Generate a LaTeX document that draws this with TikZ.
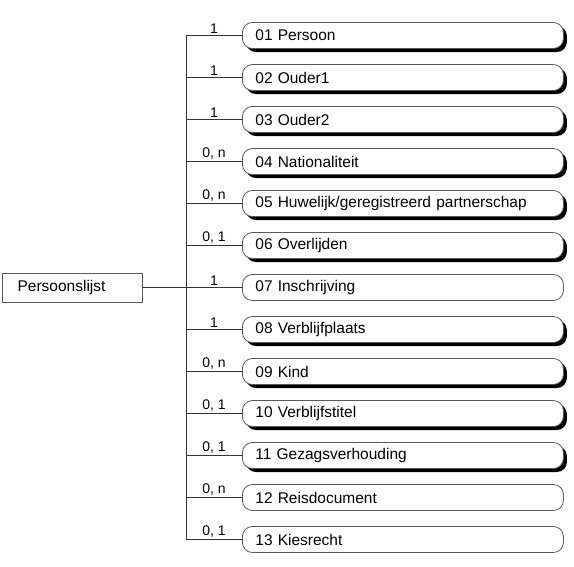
\documentclass[tikz,border=0pt]{standalone}
\usepackage{fontspec}
\setmainfont{Liberation Sans}
\usetikzlibrary{positioning,shadows,calc}
\tikzstyle{catbox}=[rectangle, rounded corners=10pt, draw=black!65, fill=white, line width=0.8pt,
minimum height=26pt, inner xsep=13pt, text width=295pt, align=left, font=\fontsize{15.5}{18}\selectfont]
\tikzstyle{shbox}=[catbox, drop shadow={shadow xshift=3.5pt, shadow yshift=-3.5pt, fill=black, opacity=1}]
\tikzstyle{rootbox}=[rectangle, draw=black!65, line width=0.8pt, minimum height=29pt, inner xsep=15pt,
text width=110pt, align=left, font=\fontsize{15.5}{18}\selectfont]
\tikzstyle{line}=[-, draw=black!80, line width=0.9pt]
\tikzstyle{card}=[above, inner sep=2pt, font=\fontsize{14}{16}\selectfont]

\begin{document}
\begin{tikzpicture}[node distance=15.2pt]
    \useasboundingbox (0pt,0pt) rectangle (574pt,-566pt);

% categorieen
    \node (persoon) [shbox, anchor=west] at (242pt,-35.5pt) {01 Persoon};
    \node (ouder1) [shbox, below=of persoon] {02 Ouder1};
    \node (ouder2) [shbox, below=of ouder1] {03 Ouder2};
    \node (nat) [shbox, below=of ouder2] {04 Nationaliteit};
    \node (huw) [shbox, below=of nat] {05 Huwelijk/geregistreerd partnerschap};
    \node (overl) [shbox, below=of huw] {06 Overlijden};
    \node (inschr) [catbox, below=of overl] {07 Inschrijving};
    \node (verbl) [shbox, below=of inschr] {08 Verblijfplaats};
    \node (kind) [shbox, below=of verbl] {09 Kind};
    \node (vbtitel) [shbox, below=of kind] {10 Verblijfstitel};
    \node (gezag) [shbox, below=of vbtitel] {11 Gezagsverhouding};
    \node (reisdoc) [catbox, below=of gezag] {12 Reisdocument};
    \node (kies) [catbox, below=of reisdoc] {13 Kiesrecht};

% persoonslijst
    \node (plijst) [rootbox, left=99pt of inschr] {Persoonslijst};
    \coordinate (bus) at ($(plijst.east)+(43pt,0)$);

   \draw[line] (plijst.east) -- (bus);
   \draw[line] (bus |- persoon.west) -- (bus |- kies.west);

   \draw[line] (bus |- persoon.west) -- node[card]{1} (persoon.west);
   \draw[line] (bus |- ouder1.west) -- node[card]{1} (ouder1.west);
   \draw[line] (bus |- ouder2.west) -- node[card]{1} (ouder2.west);
   \draw[line] (bus |- nat.west) -- node[card]{0, n} (nat.west);
   \draw[line] (bus |- huw.west) -- node[card]{0, n} (huw.west);
   \draw[line] (bus |- overl.west) -- node[card]{0, 1} (overl.west);
   \draw[line] (bus |- inschr.west) -- node[card]{1} (inschr.west);
   \draw[line] (bus |- verbl.west) -- node[card]{1} (verbl.west);
   \draw[line] (bus |- kind.west) -- node[card]{0, n} (kind.west);
   \draw[line] (bus |- vbtitel.west) -- node[card]{0, 1} (vbtitel.west);
   \draw[line] (bus |- gezag.west) -- node[card]{0, 1} (gezag.west);
   \draw[line] (bus |- reisdoc.west) -- node[card]{0, n} (reisdoc.west);
   \draw[line] (bus |- kies.west) -- node[card]{0, 1} (kies.west);

\end{tikzpicture}
\end{document}
